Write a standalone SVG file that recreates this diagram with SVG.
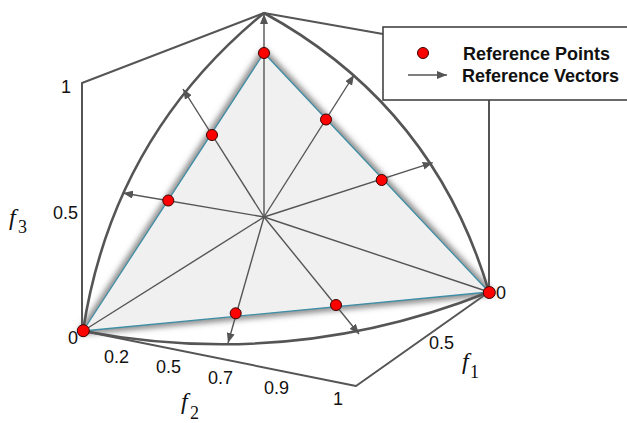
<svg xmlns="http://www.w3.org/2000/svg" width="627" height="423" viewBox="0 0 627 423">
<style>
.box{fill:none;stroke:#555;stroke-width:2;stroke-linejoin:round}
.arc{fill:none;stroke:#555;stroke-width:2.6}
.spoke{fill:none;stroke:#555;stroke-width:1.4}
.pt{fill:#f00;stroke:#3a0000;stroke-width:1}
.num{font-family:"Liberation Sans",Arial,sans-serif;font-size:18px;fill:#111}
.leg{font-family:"Liberation Sans",Arial,sans-serif;font-size:18px;font-weight:bold;fill:#111}
.fv{font-family:"Liberation Serif","Times New Roman",serif;font-size:24px;font-style:italic;fill:#111}
.sub{font-family:"Liberation Serif","Times New Roman",serif;font-size:18px;fill:#111}
</style>
<defs>
<marker id="ah" viewBox="0 0 10 8" refX="10" refY="4" markerWidth="10" markerHeight="8" markerUnits="userSpaceOnUse" orient="auto">
<path d="M0,0 L10,4 L0,8 z" fill="#555"/>
</marker>
<filter id="blur" x="-20%" y="-20%" width="140%" height="140%">
<feGaussianBlur stdDeviation="3"/>
</filter>
</defs>
<rect width="627" height="423" fill="#fff"/>
<g id="frame">
<polyline class="box" points="489,292 489,60 383,34 264,13 82,83 82,331"/>
<polyline class="box" points="83,331 356,386 489,292"/>
</g>
<g id="surface">
<path d="M264,53 L83,331 L489,292 Z" fill="none" stroke="#6a6a6a" stroke-width="6" filter="url(#blur)"/>
<path d="M264,53 L83,331 L489,292 Z" fill="#f0f0f0" stroke="#3f8ea5" stroke-width="1.3" stroke-linejoin="round"/>
</g>
<g id="arcs">
<path class="arc" d="M264,13 Q112.7,136.8 83,331"/>
<path class="arc" d="M264,13 Q434,106 489,292"/>
<path class="arc" d="M83,331 Q291.6,370.7 489,292"/>
</g>
<g id="connectors">
<line class="spoke" x1="264" y1="217" x2="264" y2="14" marker-end="url(#ah)"/>
<line class="spoke" x1="264" y1="217" x2="183" y2="89" marker-end="url(#ah)"/>
<line class="spoke" x1="264" y1="217" x2="123" y2="193" marker-end="url(#ah)"/>
<line class="spoke" x1="264" y1="217" x2="354" y2="75" marker-end="url(#ah)"/>
<line class="spoke" x1="264" y1="217" x2="432.7" y2="162.7" marker-end="url(#ah)"/>
<line class="spoke" x1="264" y1="217" x2="228" y2="343" marker-end="url(#ah)"/>
<line class="spoke" x1="264" y1="217" x2="359" y2="334" marker-end="url(#ah)"/>
<line class="spoke" x1="264" y1="217" x2="83" y2="331"/>
<line class="spoke" x1="264" y1="217" x2="489" y2="292"/>
</g>
<g id="points">
<circle class="pt" cx="264" cy="53" r="5.5"/>
<circle class="pt" cx="212" cy="135" r="5.5"/>
<circle class="pt" cx="168.3" cy="200.5" r="5.5"/>
<circle class="pt" cx="326" cy="119.5" r="5.5"/>
<circle class="pt" cx="381.7" cy="180" r="5.5"/>
<circle class="pt" cx="235.7" cy="313.3" r="5.5"/>
<circle class="pt" cx="336" cy="305" r="5.5"/>
<circle class="pt" cx="83.3" cy="330.7" r="6"/>
<circle class="pt" cx="489.3" cy="292.5" r="6"/>
</g>
<g id="labels">
<text class="num" x="71" y="93" text-anchor="end">1</text>
<text class="num" x="78" y="219" text-anchor="end">0.5</text>
<text class="num" x="68" y="344">0</text>
<text class="num" x="104" y="363">0.2</text>
<text class="num" x="156" y="373">0.5</text>
<text class="num" x="208" y="384">0.7</text>
<text class="num" x="264" y="394">0.9</text>
<text class="num" x="333" y="405">1</text>
<text class="num" x="496" y="299">0</text>
<text class="num" x="429" y="349">0.5</text>
<text class="fv" x="9" y="225">f</text><text class="sub" x="18" y="233">3</text>
<text class="fv" x="181" y="409">f</text><text class="sub" x="190" y="419">2</text>
<text class="fv" x="462" y="369">f</text><text class="sub" x="470" y="378">1</text>
</g>
<g id="legend">
<rect x="383" y="27" width="250" height="73" fill="#fff" stroke="#444" stroke-width="1.6"/>
<circle class="pt" cx="423" cy="53" r="5.5"/>
<text class="leg" x="463" y="60">Reference Points</text>
<line class="spoke" x1="408" y1="75" x2="447" y2="75" marker-end="url(#ah)"/>
<text class="leg" x="462" y="82">Reference Vectors</text>
</g>
</svg>
